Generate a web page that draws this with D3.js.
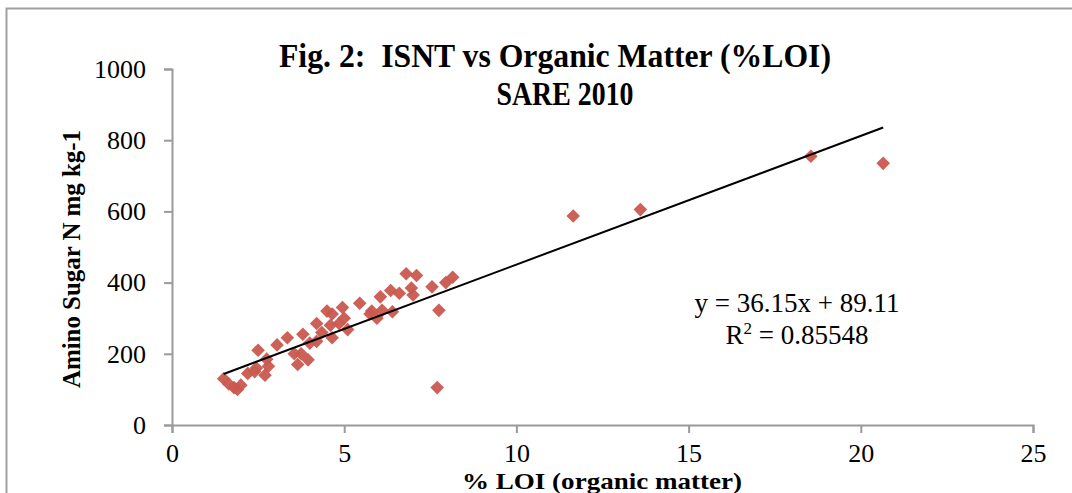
<!DOCTYPE html>
<html>
<head>
<meta charset="utf-8">
<title>Fig. 2: ISNT vs Organic Matter</title>
<script src="https://cdn.jsdelivr.net/npm/d3@7"></script>
<style>
  body { margin: 0; background: #fff; }
  text { font-family: "Liberation Serif", "Times New Roman", serif; fill: #000; white-space: pre; }
</style>
</head>
<body>
<script>
// LOI (%) and amino sugar N (mg/kg)
var loi = [1.5, 1.65, 1.8, 1.9, 2.0, 2.2, 2.4, 2.5, 2.45, 2.7, 2.75, 2.8, 3.05, 3.35, 3.55, 3.65,
           3.8, 3.75, 3.95, 4.0, 4.2, 4.2, 4.35, 4.5, 4.65, 4.65, 4.85, 4.95, 5.0, 5.1, 5.45, 5.75,
           5.95, 6.05, 6.1, 6.35, 6.4, 6.8, 6.95, 7.1, 7.0, 7.55, 7.75, 7.95, 8.15, 7.7,
           11.65, 13.6, 18.55, 20.65, 4.6, 5.8, 6.6];
var aminoN = [130, 115, 105, 100, 112, 145, 150, 210, 160, 140, 185, 165, 225, 245, 200, 170,
              255, 200, 183, 230, 285, 235, 260, 320, 312, 245, 285, 330, 300, 268, 342, 312,
              300, 360, 322, 378, 318, 425, 385, 420, 365, 388, 322, 400, 415, 105,
              587, 605, 755, 735, 280, 320, 370];
var slope = 36.15, intercept = 89.11;
var xTicks = [0, 5, 10, 15, 20, 25];
var yTicks = [0, 200, 400, 600, 800, 1000];

var w = 1072, h = 493;
var svg = d3.select("body").append("svg").attr("width", w).attr("height", h);

// outer chart frame (runs off the right and bottom)
svg.append("rect").attr("x", 6.5).attr("y", 8.5).attr("width", 1100).attr("height", 600)
  .attr("fill", "none").attr("stroke", "#a0a0a0").attr("stroke-width", 2);

var x = d3.scaleLinear().domain([0, 25]).range([172, 1033]);
var y = d3.scaleLinear().domain([0, 1000]).range([425, 69]);

var axisCol = "#9a9a9a";
var gx = svg.append("g").attr("transform", "translate(0,425)")
  .call(d3.axisBottom(x).tickValues(xTicks).tickFormat(d3.format("d")).tickSize(8).tickPadding(11));
var gy = svg.append("g").attr("transform", "translate(172,0)")
  .call(d3.axisLeft(y).tickValues(yTicks).tickFormat(d3.format("d")).tickSize(8).tickPadding(18));
[gx, gy].forEach(function(g) {
  g.select(".domain").attr("stroke", axisCol).attr("stroke-width", 2);
  g.selectAll(".tick line").attr("stroke", axisCol).attr("stroke-width", 2);
  g.selectAll(".tick text").style("font-family", "Liberation Serif").style("font-size", "26px").attr("fill", "#000");
});
gx.selectAll(".tick text").attr("dy", "0.71em");

// points
var pts = loi.map(function(d, i) { return [d, aminoN[i]]; });
svg.append("g").selectAll("path").data(pts).enter().append("path")
  .attr("d", d3.symbol().type(d3.symbolDiamond2).size(118))
  .attr("transform", function(d) { return "translate(" + x(d[0]) + "," + y(d[1]) + ")"; })
  .attr("fill", "#c9594f").attr("opacity", 0.95);

// trend line
var xr = d3.extent(loi);
svg.append("line")
  .attr("x1", x(xr[0])).attr("y1", y(slope * xr[0] + intercept))
  .attr("x2", x(xr[1])).attr("y2", y(slope * xr[1] + intercept))
  .attr("stroke", "#000").attr("stroke-width", 2);

// equation
svg.append("text").attr("x", 797).attr("y", 312).attr("text-anchor", "middle")
  .style("font-size", "27px").text("y = " + slope + "x + " + intercept);
var r2 = svg.append("text").attr("x", 797).attr("y", 344).attr("text-anchor", "middle").style("font-size", "27px");
r2.append("tspan").text("R");
r2.append("tspan").attr("dy", -10).style("font-size", "17px").text("2");
r2.append("tspan").attr("dy", 10).text(" = 0.85548");

// title
svg.append("text").attr("x", 555).attr("y", 67).attr("text-anchor", "middle")
  .style("font-size", "33px").style("font-weight", "bold")
  .attr("textLength", 552).attr("lengthAdjust", "spacingAndGlyphs")
  .text("Fig. 2:  ISNT vs Organic Matter (%LOI)");
svg.append("text").attr("x", 565).attr("y", 105).attr("text-anchor", "middle")
  .style("font-size", "33px").style("font-weight", "bold")
  .attr("textLength", 137).attr("lengthAdjust", "spacingAndGlyphs")
  .text("SARE 2010");

// axis titles
svg.append("text").attr("x", 602).attr("y", 489).attr("text-anchor", "middle")
  .style("font-size", "24px").style("font-weight", "bold")
  .attr("textLength", 280).attr("lengthAdjust", "spacingAndGlyphs")
  .text("% LOI (organic matter)");
svg.append("text").attr("transform", "translate(80,259) rotate(-90)").attr("text-anchor", "middle")
  .style("font-size", "25px").style("font-weight", "bold")
  .attr("textLength", 258).attr("lengthAdjust", "spacingAndGlyphs")
  .text("Amino Sugar N mg kg-1");
</script>
</body>
</html>
